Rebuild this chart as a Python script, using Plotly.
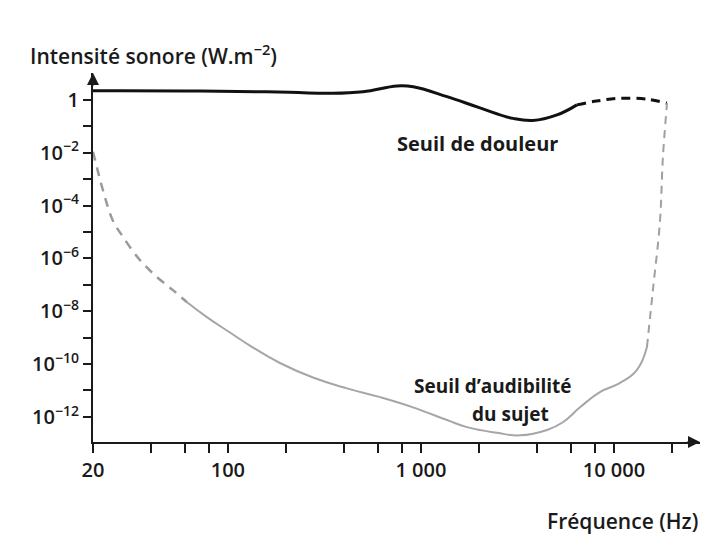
import plotly.graph_objects as go

# Seuil de douleur (pain threshold) - frequency (Hz) and intensity (W.m-2)
pain_solid_f = [20, 72, 209, 339, 501, 752, 912, 1365, 2023, 3000, 3800, 5070, 6430]
pain_solid_I = [2.24, 2.19, 1.95, 1.78, 2.04, 3.39, 3.16, 1.33, 0.50, 0.20, 0.166, 0.27, 0.65]
pain_dash_f = [6430, 8130, 10700, 14800, 18800]
pain_dash_I = [0.65, 0.91, 1.15, 1.07, 0.75]

# Seuil d'audibilité du sujet (hearing threshold)
aud_dash_left_f = [20, 22.5, 25.3, 28.6, 35, 42.8, 51.9, 61.4]
aud_dash_left_I = [1.1e-2, 3.9e-4, 2.8e-5, 6.5e-6, 8.7e-7, 2.0e-7, 6.3e-8, 2.2e-8]
aud_solid_f = [61.4, 77.8, 102, 130, 186, 276, 414, 614, 910, 1365, 1730, 2475,
               3260, 4500, 5440, 6670, 8460, 10720, 13140, 14830]
aud_solid_I = [2.2e-8, 6.0e-9, 1.6e-9, 5.0e-10, 1.1e-10, 3.1e-11, 1.2e-11, 5.6e-12,
               2.3e-12, 7.6e-13, 4.1e-13, 2.5e-13, 2.0e-13, 3.2e-13, 6.3e-13,
               2.3e-12, 8.7e-12, 1.9e-11, 5.9e-11, 4.4e-10]
aud_dash_right_f = [14830, 15920, 17300, 17940, 18840]
aud_dash_right_I = [4.4e-10, 6.3e-8, 2.2e-5, 6.9e-3, 0.75]

# Axis ticks (labelled) and unlabelled minor ticks
x_tickvals = [20, 100, 1000, 10000]
x_ticktext = ["20", "100", "1 000", "10 000"]
x_minorvals = [40, 60, 80, 200, 400, 600, 800, 2000, 4000, 6000, 8000, 20000]
y_tickvals = [1e0, 1e-2, 1e-4, 1e-6, 1e-8, 1e-10, 1e-12]
y_ticktext = ["1", "10<sup>−2</sup>", "10<sup>−4</sup>", "10<sup>−6</sup>",
              "10<sup>−8</sup>", "10<sup>−10</sup>", "10<sup>−12</sup>"]
y_minorvals = [1e-1, 1e-3, 1e-5, 1e-7, 1e-9, 1e-11]

FONT = "Open Sans"
INK = "#1a1a1a"
GRAY = "#a6a6a6"

fig = go.Figure()
fig.add_trace(go.Scatter(x=pain_solid_f, y=pain_solid_I, mode="lines",
                         line=dict(color="#111111", width=3, shape="spline", smoothing=1.2)))
fig.add_trace(go.Scatter(x=pain_dash_f, y=pain_dash_I, mode="lines",
                         line=dict(color="#111111", width=3, shape="spline", dash="9px,6px")))
fig.add_trace(go.Scatter(x=aud_dash_left_f, y=aud_dash_left_I, mode="lines",
                         line=dict(color="#9a9a9a", width=2.5, shape="spline", dash="9px,7px")))
fig.add_trace(go.Scatter(x=aud_solid_f, y=aud_solid_I, mode="lines",
                         line=dict(color=GRAY, width=2, shape="spline", smoothing=1.3)))
fig.add_trace(go.Scatter(x=aud_dash_right_f, y=aud_dash_right_I, mode="lines",
                         line=dict(color="#a0a0a0", width=2, shape="spline", dash="8px,6px")))

fig.update_layout(
    width=708, height=542,
    margin=dict(l=93, r=8, t=73, b=100),
    paper_bgcolor="white", plot_bgcolor="white",
    showlegend=False,
    font=dict(family=FONT, color=INK, size=20, weight=600),
)
tickfont = dict(family=FONT, size=20, color=INK, weight=600)
fig.update_xaxes(type="log", range=[1.301, 4.446], showgrid=False, zeroline=False,
                 showline=True, linecolor=INK, linewidth=2,
                 tickmode="array", tickvals=x_tickvals, ticktext=x_ticktext,
                 ticks="outside", ticklen=9, tickwidth=1.5, tickcolor=INK,
                 tickfont=tickfont,
                 minor=dict(tickmode="array", tickvals=x_minorvals, ticks="outside",
                            ticklen=9, tickwidth=1.5, tickcolor=INK, showgrid=False))
fig.update_yaxes(type="log", range=[-12.95, 1.02], showgrid=False, zeroline=False,
                 showline=True, linecolor=INK, linewidth=2,
                 tickmode="array", tickvals=y_tickvals, ticktext=y_ticktext,
                 ticks="outside", ticklen=8, tickwidth=1.5, tickcolor=INK,
                 tickfont=tickfont,
                 minor=dict(tickmode="array", tickvals=y_minorvals, ticks="outside",
                            ticklen=8, tickwidth=1.5, tickcolor=INK, showgrid=False))

# arrow heads on the axes
fig.add_annotation(x=0, y=1.0, xref="paper", yref="paper", ax=0, ay=14,
                   showarrow=True, arrowhead=2, arrowsize=1.2, arrowwidth=2,
                   arrowcolor=INK, text="")
fig.add_annotation(x=1.0, y=0, xref="paper", yref="paper", ax=-14, ay=0,
                   showarrow=True, arrowhead=2, arrowsize=1.2, arrowwidth=2,
                   arrowcolor=INK, text="")

lab_font = dict(family=FONT, size=21, color=INK, weight=600)
ann_font = dict(family=FONT, size=20, color=INK, weight=700)
ann_font2 = dict(family=FONT, size=19, color=INK, weight=700)
fig.add_annotation(text="Intensité sonore (W.m<sup>−2</sup>)", xref="paper", yref="paper",
                   x=-0.107, y=1.049, xanchor="left", yanchor="middle", showarrow=False,
                   font=lab_font)
fig.add_annotation(text="Fréquence (Hz)", xref="paper", yref="paper",
                   x=1.0, y=-0.214, xanchor="right", yanchor="middle", showarrow=False,
                   font=lab_font)
fig.add_annotation(text="Seuil de douleur", xref="paper", yref="paper",
                   x=0.634, y=0.81, xanchor="center", yanchor="middle", showarrow=False,
                   font=ann_font)
fig.add_annotation(text="Seuil d’audibilité", xref="paper", yref="paper",
                   x=0.659, y=0.152, xanchor="center", yanchor="middle", showarrow=False,
                   font=ann_font2, borderpad=0)
fig.add_annotation(text="du sujet", xref="paper", yref="paper",
                   x=0.687, y=0.076, xanchor="center", yanchor="middle", showarrow=False,
                   font=ann_font2, borderpad=0)

fig.write_html("out.html")
